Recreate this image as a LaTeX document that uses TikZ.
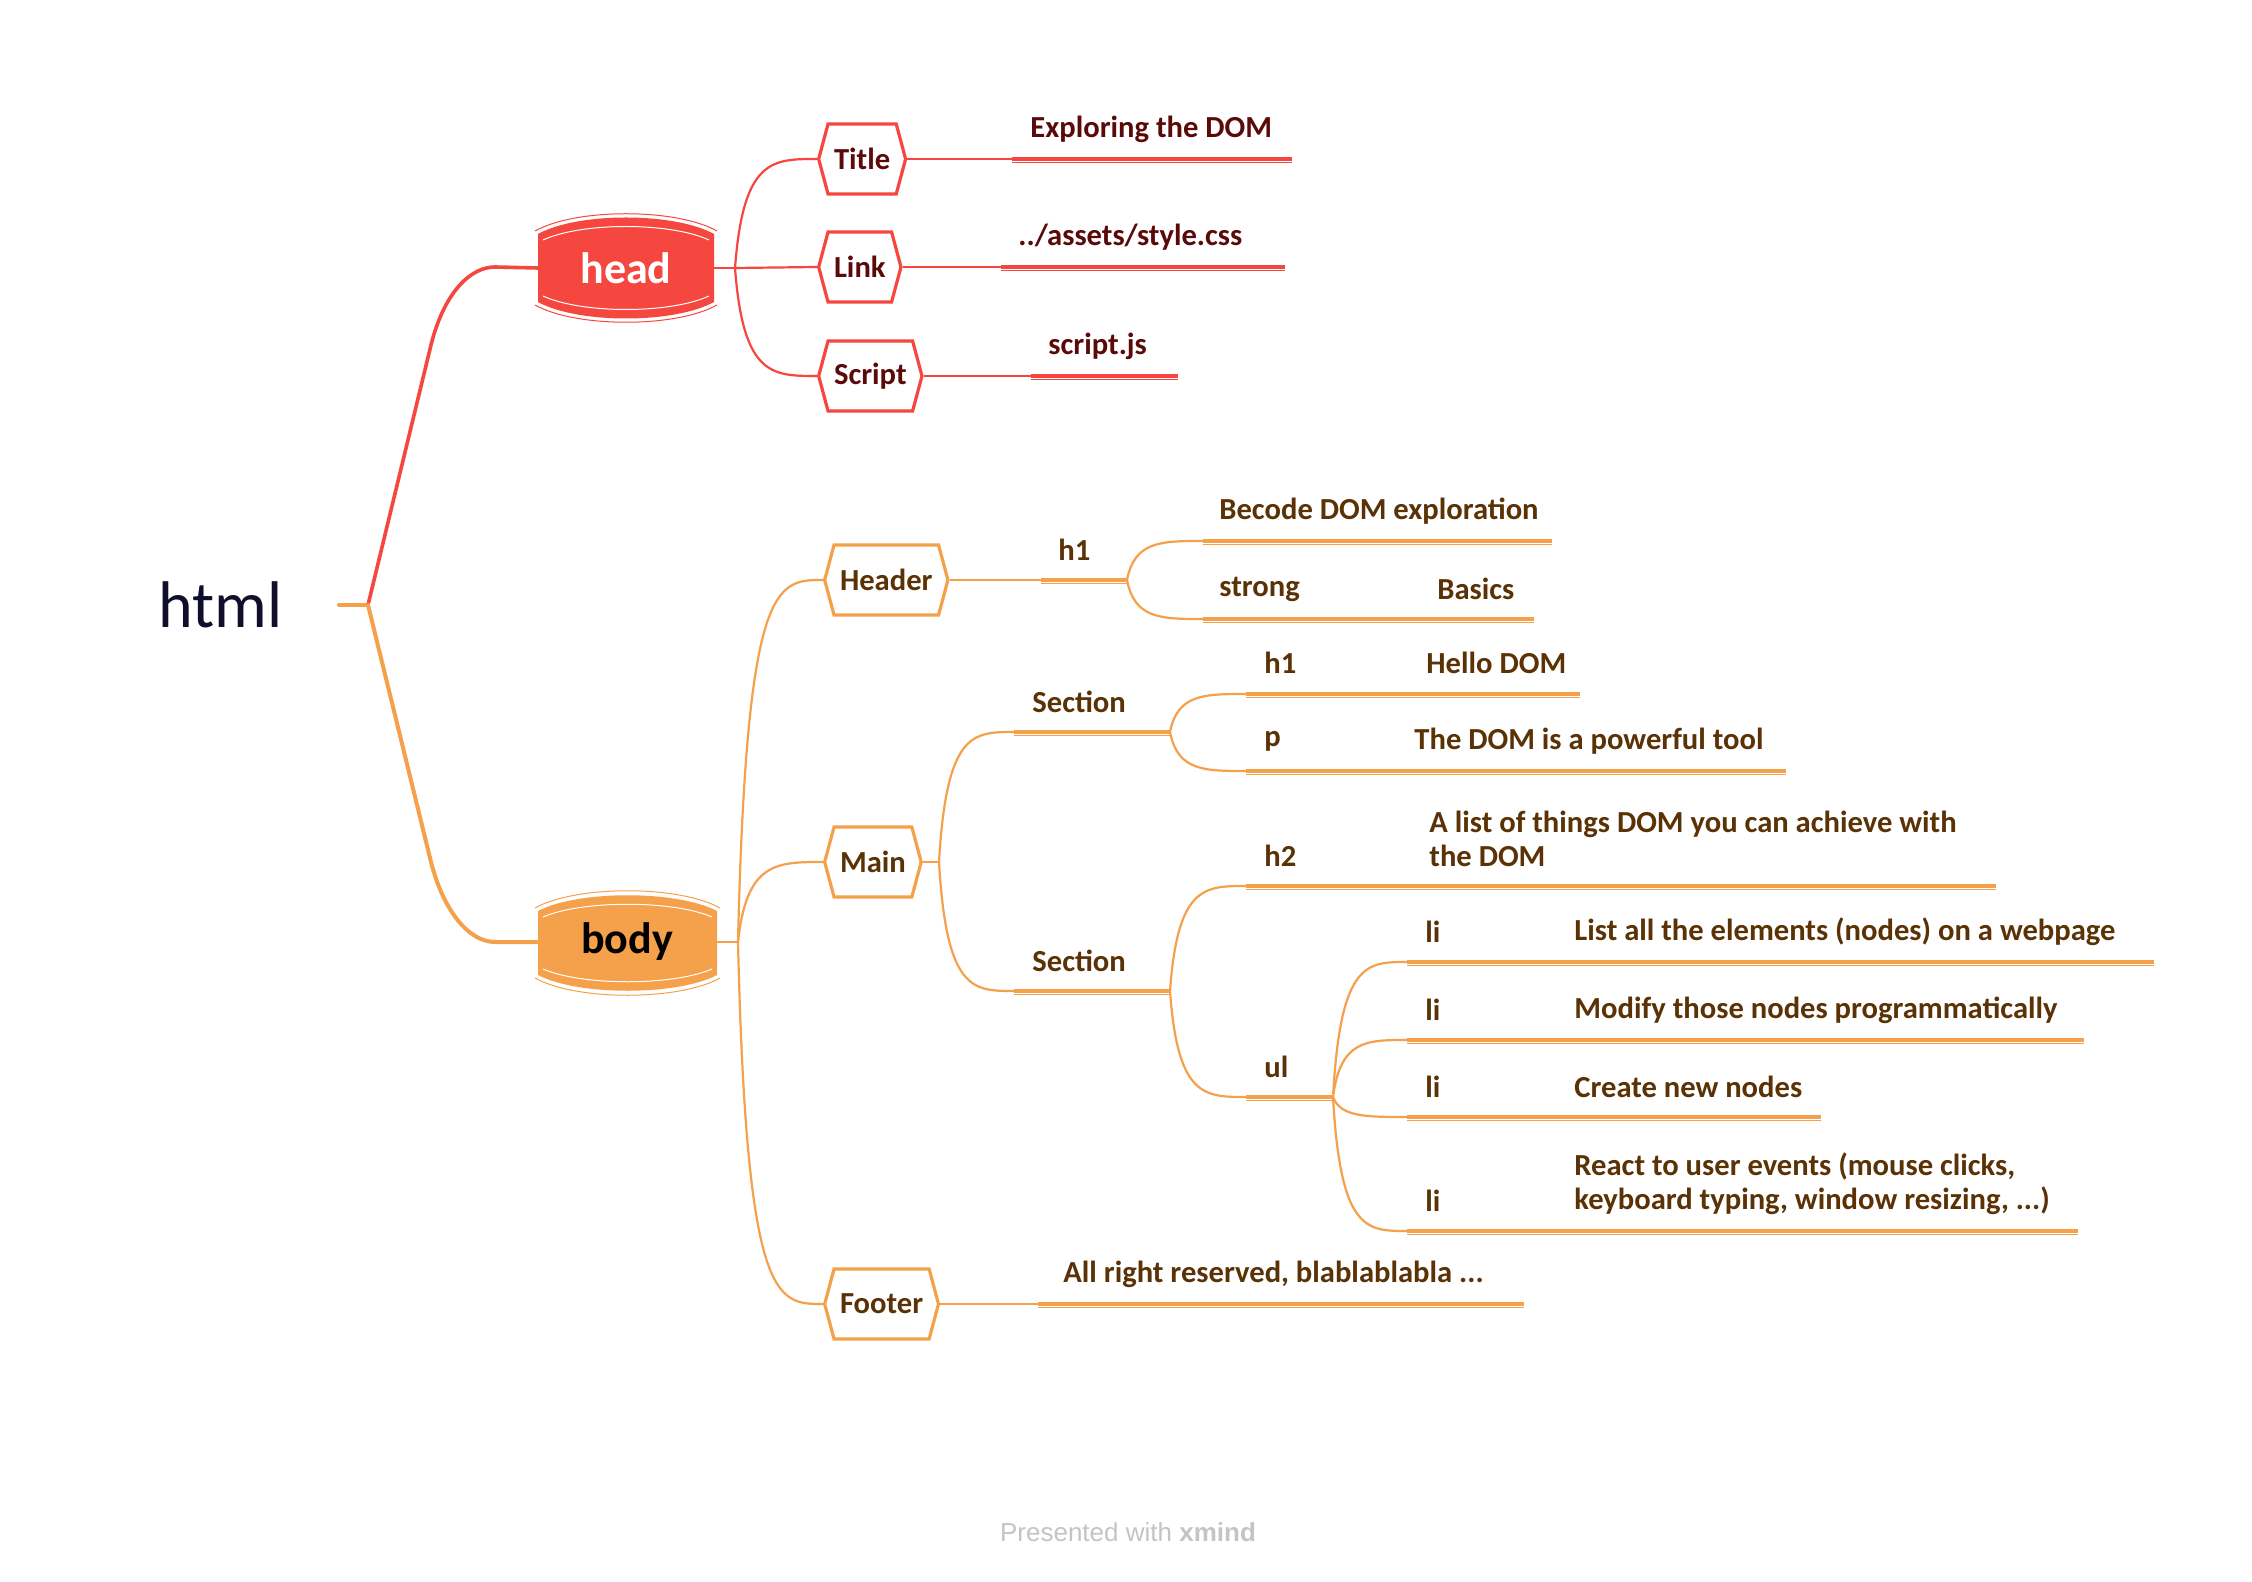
\documentclass[tikz,border=0pt]{standalone}
\usepackage{fontspec}
\setmainfont{Carlito}
\newfontfamily\presfont{Liberation Sans}
\usetikzlibrary{shapes.symbols,calc}
\definecolor{cred}{HTML}{F5473F}
\definecolor{corange}{HTML}{F5A04B}
\definecolor{tred}{HTML}{5B0A0A}
\definecolor{tbrown}{HTML}{5A3205}
\definecolor{thtml}{HTML}{0F0F2D}
\definecolor{cgray}{HTML}{C4C4C4}
\begin{document}
\begin{tikzpicture}[x=0.5pt,y=-0.5pt,
  lbl/.style={font=\fontsize{15.3}{17}\selectfont\bfseries, inner sep=0pt, anchor=west, align=left},
  hexbox/.style={signal, signal to=west and east, signal pointer angle=150, draw, line width=1.6pt,
     fill=white, minimum height=35pt, inner xsep=3pt, inner ysep=0pt,
     font=\fontsize{15.3}{17}\selectfont\bfseries, anchor=west},
  rtrunk/.style={draw=cred, line width=1.8pt, line cap=round},
  otrunk/.style={draw=corange, line width=2pt, line cap=round},
  rline/.style={draw=cred, line width=1.1pt},
  oline/.style={draw=corange, line width=1.1pt},
  rund/.style={draw=cred, line width=1.6pt, postaction={draw=cred, line width=0.5pt, transform canvas={yshift=-1.6pt}}},
  ound/.style={draw=corange, line width=1.6pt, postaction={draw=corange, line width=0.5pt, transform canvas={yshift=-1.6pt}}},
  curveto/.style={to path={let \p1=(\tikztostart), \p2=(\tikztotarget) in
     .. controls ({\x1+0.1*(\x2-\x1)},\y2) and ({\x1+0.45*(\x2-\x1)},\y2) .. (\tikztotarget)}},
  bignode/.style={minimum width=88pt, minimum height=50pt, inner sep=0pt,
     font=\fontsize{22}{24}\selectfont\bfseries}
]
\useasboundingbox (0,0) rectangle (2252,1582);
\fill[white] (0,0) rectangle (2252,1582);

% ---------- root ----------
\node[font=\fontsize{33}{37}\selectfont, text=thtml, anchor=west, inner sep=0pt] (html) at (158,605) {html};
\coordinate (hstub) at (339,605);
\coordinate (hj) at (368,605);

% ---------- head barrel ----------
\fill[cred] (538,234) -- (538,302) .. controls (578,324) and (674,324) .. (714,302)
   -- (714,234) .. controls (674,212) and (578,212) .. cycle;
\draw[cred, line width=0.5pt] (535,231) .. controls (576,208) and (676,208) .. (717,231);
\draw[cred, line width=0.5pt] (535,305) .. controls (576,328) and (676,328) .. (717,305);
\draw[white, line width=0.5pt] (543,240) .. controls (582,222) and (670,222) .. (709,240);
\draw[white, line width=0.5pt] (543,296) .. controls (582,314) and (670,314) .. (709,296);
\node[bignode, text=white] (head) at (626,268) {head};

% ---------- body barrel ----------
\fill[corange] (538,911) -- (538,975) .. controls (578,996) and (677,996) .. (717,975)
   -- (717,911) .. controls (677,890) and (578,890) .. cycle;
\draw[corange, line width=0.5pt] (535,908) .. controls (576,885) and (679,885) .. (720,908);
\draw[corange, line width=0.5pt] (535,978) .. controls (576,1001) and (679,1001) .. (720,978);
\draw[white, line width=0.5pt] (543,917) .. controls (582,900) and (673,900) .. (712,917);
\draw[white, line width=0.5pt] (543,969) .. controls (582,986) and (673,986) .. (712,969);
\node[bignode, text=black] (body) at (627,942) {body};

% ---------- trunk ----------
\coordinate (rA) at (431,345);
\coordinate (rB) at (495,267);
\coordinate (oA) at (431,862);
\coordinate (oB) at (495,942);
\draw[otrunk] (hstub) -- (hj);
\draw[rtrunk] (hj) -- (rA) .. controls (444,293) and (470,267) .. (rB) -- (head.west);
\draw[otrunk] (hj) -- (oA) .. controls (444,913) and (470,942) .. (oB) -- (body.west);

% ---------- head children ----------
\coordinate (hdj) at (735,268);
\node[hexbox, draw=cred, text=tred] (title) at (817,159) {Title};
\node[hexbox, draw=cred, text=tred] (link) at (817,267) {Link};
\node[hexbox, draw=cred, text=tred] (script) at (817,376) {Script};
\draw[rline] (head.east) -- (hdj);
\draw[rline] (hdj) to[curveto] (title.west);
\draw[rline] (hdj) -- (link.west);
\draw[rline] (hdj) to[curveto] (script.west);

\coordinate (titleA) at (1012,159);
\coordinate (titleE) at (1292,159);
\coordinate (linkA) at (1001,267);
\coordinate (linkE) at (1285,267);
\coordinate (scriptA) at (1031,376);
\coordinate (scriptE) at (1178,376);
\draw[rline] (title.east) -- (titleA);
\draw[rund] (titleA) -- (titleE);
\draw[rline] (link.east) -- (linkA);
\draw[rund] (linkA) -- (linkE);
\draw[rline] (script.east) -- (scriptA);
\draw[rund] (scriptA) -- (scriptE);
\node[lbl, text=tred] (titleT) at (1030,129) {Exploring the DOM};
\node[lbl, text=tred] (linkT) at (1018,237) {../assets/style.css};
\node[lbl, text=tred] (scriptT) at (1048,346) {script.js};

% ---------- body children ----------
\coordinate (bdj) at (738,942);
\node[hexbox, draw=corange, text=tbrown] (header) at (823,580) {Header};
\node[hexbox, draw=corange, text=tbrown] (main) at (823,862) {Main};
\node[hexbox, draw=corange, text=tbrown] (footer) at (823,1304) {Footer};
\draw[oline] (body.east) -- (bdj);
\draw[oline] (bdj) to[curveto] (header.west);
\draw[oline] (bdj) to[curveto] (main.west);
\draw[oline] (bdj) to[curveto] (footer.west);

% Header
\coordinate (hh1a) at (1041,580);
\coordinate (hh1) at (1127,580);
\draw[oline] (header.east) -- (hh1a);
\draw[ound] (hh1a) -- (hh1);
\node[lbl, text=tbrown] (hh1T) at (1058,550) {h1};
\coordinate (becA) at (1203,541);
\coordinate (becE) at (1552,541);
\coordinate (strA) at (1203,619);
\coordinate (strE) at (1534,619);
\draw[oline] (hh1) to[curveto] (becA);
\draw[ound] (becA) -- (becE);
\draw[oline] (hh1) to[curveto] (strA);
\draw[ound] (strA) -- (strE);
\node[lbl, text=tbrown] (becT) at (1219,511) {Becode DOM exploration};
\node[lbl, text=tbrown] (strT) at (1219,589) {strong};
\node[lbl, text=tbrown] (basT) at (1437,589) {Basics};

% Main
\coordinate (mj) at (939,862);
\draw[oline] (main.east) -- (mj);
\coordinate (s1a) at (1014,732);
\coordinate (s1j) at (1170,732);
\coordinate (s2a) at (1014,991);
\coordinate (s2j) at (1170,991);
\draw[oline] (mj) to[curveto] (s1a);
\draw[ound] (s1a) -- (s1j);
\draw[oline] (mj) to[curveto] (s2a);
\draw[ound] (s2a) -- (s2j);
\node[lbl, text=tbrown] (s1T) at (1032,702) {Section};
\node[lbl, text=tbrown] (s2T) at (1032,961) {Section};

% Section 1
\coordinate (h1a) at (1246,694);
\coordinate (h1E) at (1580,694);
\coordinate (pa) at (1246,771);
\coordinate (pE) at (1786,771);
\draw[oline] (s1j) to[curveto] (h1a);
\draw[ound] (h1a) -- (h1E);
\draw[oline] (s1j) to[curveto] (pa);
\draw[ound] (pa) -- (pE);
\node[lbl, text=tbrown] (h1T) at (1264,663) {h1};
\node[lbl, text=tbrown] (helloT) at (1426,663) {Hello DOM};
\node[lbl, text=tbrown] (pT) at (1264,741) {p};
\node[lbl, text=tbrown] (pTT) at (1414,741) {The DOM is a powerful tool};

% Section 2
\coordinate (h2a) at (1246,886);
\coordinate (h2E) at (1996,886);
\coordinate (ula) at (1246,1097);
\coordinate (ulj) at (1333,1097);
\draw[oline] (s2j) to[curveto] (h2a);
\draw[ound] (h2a) -- (h2E);
\draw[oline] (s2j) to[curveto] (ula);
\draw[ound] (ula) -- (ulj);
\node[lbl, text=tbrown] (h2T) at (1264,856) {h2};
\node[lbl, text=tbrown] (h2TT) at (1429,838.5) {A list of things DOM you can achieve with\\the DOM};
\node[lbl, text=tbrown] (ulT) at (1264,1067) {ul};

% li items
\coordinate (li1a) at (1407,962);
\coordinate (li1E) at (2154,962);
\coordinate (li2a) at (1407,1040);
\coordinate (li2E) at (2084,1040);
\coordinate (li3a) at (1407,1117);
\coordinate (li3E) at (1821,1117);
\coordinate (li4a) at (1407,1231);
\coordinate (li4E) at (2078,1231);
\draw[oline] (ulj) to[curveto] (li1a);
\draw[ound] (li1a) -- (li1E);
\draw[oline] (ulj) to[curveto] (li2a);
\draw[ound] (li2a) -- (li2E);
\draw[oline] (ulj) to[curveto] (li3a);
\draw[ound] (li3a) -- (li3E);
\draw[oline] (ulj) to[curveto] (li4a);
\draw[ound] (li4a) -- (li4E);
\node[lbl, text=tbrown] (li1T) at (1425,932) {li};
\node[lbl, text=tbrown] (li2T) at (1425,1010) {li};
\node[lbl, text=tbrown] (li3T) at (1425,1087) {li};
\node[lbl, text=tbrown] (li4T) at (1425,1201) {li};
\node[lbl, text=tbrown] (li1TT) at (1574,932) {List all the elements (nodes) on a webpage};
\node[lbl, text=tbrown] (li2TT) at (1574,1010) {Modify those nodes programmatically};
\node[lbl, text=tbrown] (li3TT) at (1574,1087) {Create new nodes};
\node[lbl, text=tbrown] (li4TT) at (1574,1183.5) {React to user events (mouse clicks,\\keyboard typing, window resizing, ...)};

% Footer
\coordinate (footA) at (1038,1304);
\coordinate (footE) at (1524,1304);
\draw[oline] (footer.east) -- (footA);
\draw[ound] (footA) -- (footE);
\node[lbl, text=tbrown] (footT) at (1063,1274) {All right reserved, blablablabla ...};

% credit
\node[font=\presfont\fontsize{13}{15}\selectfont, text=cgray, inner sep=0pt] (pres) at (1128,1532) {Presented with \textbf{xmind}};
\end{tikzpicture}
\end{document}
